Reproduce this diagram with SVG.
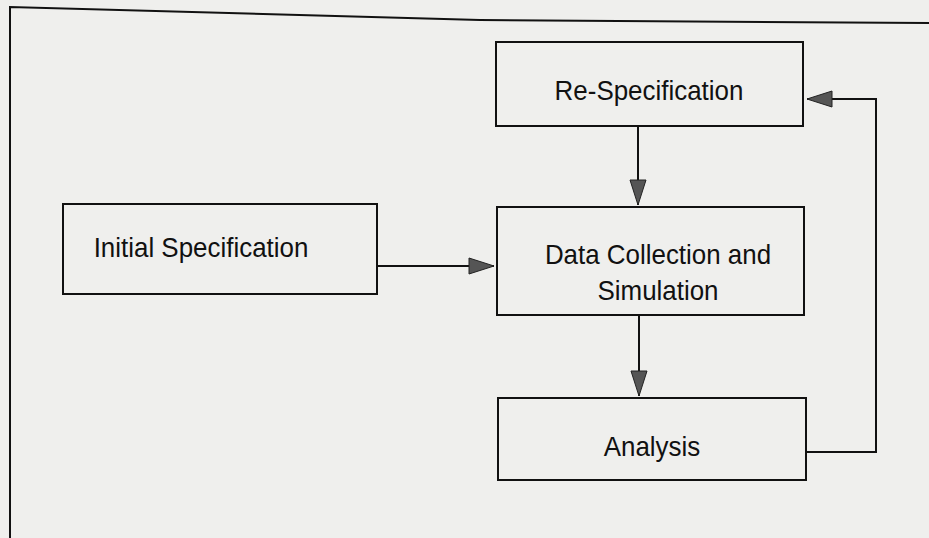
<svg xmlns="http://www.w3.org/2000/svg" width="929" height="538" viewBox="0 0 929 538">
  <style>
    .box { fill: none; stroke: #111; stroke-width: 2; }
    .lbl { font-family: "Liberation Sans", Arial, sans-serif; font-size: 28.5px; fill: #111; text-anchor: middle; }
    .conn { fill: none; stroke: #111; stroke-width: 2; }
    .frame { fill: none; stroke: #111; stroke-width: 2; }
  </style>
  <defs>
    <marker id="arrow" markerUnits="userSpaceOnUse" markerWidth="28" markerHeight="20" refX="25" refY="9" orient="auto" viewBox="-1 0 28 18">
      <path d="M0,1 L25,9 L0,17 z" fill="#555" stroke="#222" stroke-width="1"/>
    </marker>
  </defs>
  <rect x="0" y="0" width="929" height="538" fill="#efefed"/>
  <g id="frame">
    <polyline class="frame" points="10,538 10,7 480,20 929,23"/>
  </g>
  <g id="connectors">
    <line class="conn" x1="377" y1="266" x2="494" y2="266" marker-end="url(#arrow)"/>
    <line class="conn" x1="638" y1="126" x2="638" y2="205" marker-end="url(#arrow)"/>
    <line class="conn" x1="639" y1="315" x2="639" y2="396" marker-end="url(#arrow)"/>
    <polyline class="conn" points="806,452 876,452 876,99 807,99" marker-end="url(#arrow)"/>
  </g>
  <g id="re-specification">
    <rect class="box" x="496" y="42" width="307" height="84"/>
    <text class="lbl" transform="translate(649,100) scale(0.91,1)">Re-Specification</text>
  </g>
  <g id="initial-specification">
    <rect class="box" x="63" y="204" width="314" height="90"/>
    <text class="lbl" transform="translate(201,257) scale(0.91,1)">Initial Specification</text>
  </g>
  <g id="data-collection">
    <rect class="box" x="497" y="207" width="307" height="108"/>
    <text class="lbl" transform="translate(658,264) scale(0.91,1)">Data Collection and</text>
    <text class="lbl" transform="translate(658,300) scale(0.91,1)">Simulation</text>
  </g>
  <g id="analysis">
    <rect class="box" x="498" y="398" width="308" height="82"/>
    <text class="lbl" transform="translate(652,456) scale(0.91,1)">Analysis</text>
  </g>
</svg>
